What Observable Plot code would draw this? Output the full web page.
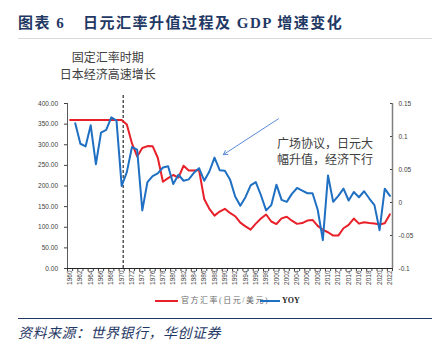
<!DOCTYPE html>
<html><head><meta charset="utf-8">
<script src="https://cdn.jsdelivr.net/npm/d3@7"></script>
<script src="https://cdn.jsdelivr.net/npm/@observablehq/plot@0.6"></script>
<style>
body{margin:0;background:#fff;}
#wrap{position:relative;width:445px;height:352px;overflow:hidden;font-family:"Noto Sans CJK SC",sans-serif;}
.abs{position:absolute;white-space:nowrap;}
.ttl{top:12px;font-size:15px;line-height:22px;font-weight:700;color:#1F3864;font-family:"Liberation Serif","Noto Sans CJK SC",serif;}
.leg{top:294px;font-size:8px;line-height:13px;font-family:"Liberation Serif","Noto Sans CJK SC",serif;}
</style></head><body>
<div id="wrap">
  <div class="abs ttl" style="left:18px;letter-spacing:1.5px">图表 6</div>
  <div class="abs ttl" style="left:83px;letter-spacing:1.5px">日元汇率升值过程及 GDP 增速变化</div>
  <div class="abs" style="left:18px;top:38px;width:414px;height:1px;background:#d9d9d9"></div>
  <div id="chart" class="abs" style="left:0;top:0"></div>
  <div class="abs" style="left:155px;top:300px;width:23px;height:2px;background:#E8202A"></div>
  <div class="abs leg" style="left:181px;color:#6b6b6b;letter-spacing:1.5px">官方汇率(日元/美元)</div>
  <div class="abs" style="left:260px;top:300px;width:20px;height:2px;background:#1F6FC2"></div>
  <div class="abs leg" style="left:282px;color:#262626;font-weight:700">YOY</div>
  <div class="abs" style="left:18px;top:317.5px;width:414px;height:1.5px;background:#1F3864"></div>
  <div class="abs" style="left:18px;top:322px;font-size:14px;line-height:21px;font-style:italic;color:#1F3864;letter-spacing:0.5px">资料来源：世界银行，华创证券</div>
</div>
<script>
// Years (categories)
const years = d3.range(1960, 2023);
// Official exchange rate, JPY per USD (left axis)
const rate = [360,360,360,360,360,360,360,360,360,360,360,
  349.3,303.2,271.7,292.1,296.8,296.6,268.5,210.4,219.1,226.7,
  220.5,249.1,237.5,237.5,238.5,168.5,144.6,128.2,138.0,144.8,
  134.7,126.7,111.2,102.2,94.1,108.8,121.0,130.9,113.9,107.8,
  121.5,125.4,115.9,108.2,110.2,116.3,117.8,103.4,93.6,87.8,
  79.8,79.8,97.6,105.9,121.0,108.8,112.2,110.4,109.0,106.8,
  109.8,131.5];
// GDP growth YOY (right axis)
const yoy = [null,0.120,0.089,0.085,0.117,0.058,0.106,0.110,0.129,0.124,0.025,
  0.046,0.084,0.080,-0.012,0.031,0.040,0.044,0.053,0.055,0.028,
  0.042,0.033,0.035,0.045,0.052,0.033,0.047,0.068,0.049,0.048,
  0.035,0.009,-0.005,0.008,0.026,0.031,0.011,-0.012,-0.004,0.027,
  0.004,0.001,0.013,0.022,0.018,0.014,0.014,-0.011,-0.057,0.041,
  0.001,0.010,0.021,0.003,0.016,0.008,0.017,0.006,-0.004,-0.042,
  0.021,0.010];
// Axis ticks
const leftTicks = [0,50,100,150,200,250,300,350,400];
const rightTicks = [0.15,0.1,0.05,0,-0.05,-0.1];
const rightTickLabels = ["0.15","0.1","0.05","0","-0.05","-0.1"];
const labelYears = d3.range(1960, 2023, 2);
// Annotations
const fixedPeriodEnd = 1970;
const noteLeft = ["固定汇率时期\n日本经济高速增长"];
const noteRight = ["广场协议，日元大\n幅升值，经济下行"];

const rMin = -0.1, rMax = 0.15, lMax = 400;
const toLeft = v => (v - rMin) / (rMax - rMin) * lMax;
const rightMap = new Map(rightTicks.map((t, i) => [toLeft(t), rightTickLabels[i]]));

const redData = years.map((y, i) => ({year: y, v: rate[i]}));
const blueData = years.map((y, i) => ({year: y, v: yoy[i]})).filter(d => d.v != null);
const x0 = years[0] - 0.5, x1 = years[years.length - 1] + 0.5;
const boundaries = d3.range(years[0] - 0.5, years[years.length - 1] + 1, 1);

const chart = Plot.plot({
  width: 445, height: 300,
  marginLeft: 67, marginRight: 53, marginTop: 103, marginBottom: 32,
  x: {domain: [x0, x1]},
  y: {domain: [0, lMax]},
  style: {background: "transparent", color: "#404040", fontFamily: "Liberation Sans, Arial, sans-serif", overflow: "visible"},
  marks: [
    Plot.axisY(leftTicks, {anchor: "left", tickFormat: d => d.toFixed(2), tickSize: 3, tickPadding: 6.5, fontSize: 6.5, label: null}),
    Plot.ruleX([x0], {stroke: "#595959"}),
    Plot.axisY(rightTicks.map(toLeft), {anchor: "right", tickFormat: d => rightMap.get(d), tickSize: -3, tickPadding: 9, fontSize: 6.5, label: null}),
    Plot.ruleX([x1], {stroke: "#7f7f7f", strokeWidth: 1.5}),
    Plot.axisX(boundaries, {tickSize: 3, tickFormat: () => "", label: null}),
    Plot.axisX(labelYears, {tickSize: 0, tickRotate: -90, tickPadding: 2, fontSize: 6.5, tickFormat: d => String(d), label: null}),
    Plot.ruleY([0], {stroke: "#262626"}),
    Plot.ruleX([fixedPeriodEnd], {y1: 0, y2: 424, stroke: "#000", strokeWidth: 1, strokeDasharray: "3,2", dx: 1.5}),
    Plot.line(redData, {x: "year", y: "v", stroke: "#E8202A", strokeWidth: 2}),
    Plot.line(blueData, {x: "year", y: d => toLeft(d.v), stroke: "#1F6FC2", strokeWidth: 2}),
    Plot.arrow([{a: 2000.4, b: 363, c: 1989.7, d: 276}], {x1: "a", y1: "b", x2: "c", y2: "d", stroke: "#5B8BD6", strokeWidth: 1, headLength: 7}),
    Plot.text(noteLeft, {x: 1967.3, y: 493, text: d => d, fontSize: 12, lineHeight: 1.44, fill: "#404040", fontFamily: "Noto Sans CJK SC", textAnchor: "middle"}),
    Plot.text(noteRight, {x: 2000.1, y: 285, text: d => d, fontSize: 12, lineHeight: 1.3, fill: "#404040", fontFamily: "Noto Sans CJK SC", textAnchor: "start"})
  ]
});
document.getElementById("chart").appendChild(chart);
</script>
</body></html>
